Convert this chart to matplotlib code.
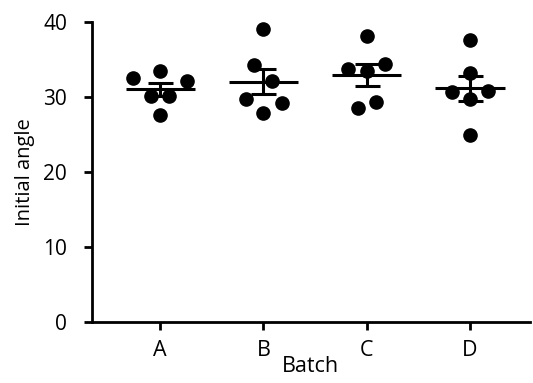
import numpy as np
import matplotlib
matplotlib.use("Agg")
import matplotlib.pyplot as plt

plt.rcParams['font.family'] = ['Open Sans', 'DejaVu Sans']

# data
batches = ['A', 'B', 'C', 'D']
values_a = [32.6, 33.5, 32.2, 30.2, 30.2, 27.6]
values_b = [39.1, 34.3, 32.1, 29.7, 29.2, 27.9]
values_c = [38.1, 33.8, 34.4, 33.5, 29.4, 28.5]
values_d = [37.6, 33.2, 30.7, 30.8, 29.7, 24.9]
y_ticks = [0, 10, 20, 30, 40]

# horizontal spread of the dots (scatter-dot layout)
spread_a = [-0.26, 0, 0.26, -0.087, 0.087, 0]
spread_b = [0, -0.087, 0.087, -0.17, 0.18, 0]
spread_c = [0, -0.18, 0.18, 0, 0.09, -0.087]
spread_d = [0, 0, -0.17, 0.18, 0, 0]

groups = [values_a, values_b, values_c, values_d]
spreads = [spread_a, spread_b, spread_c, spread_d]

fig = plt.figure(figsize=(5.33, 3.83), dpi=100)
ax = fig.add_axes([0.1726, 0.159, 0.8214, 0.7836])

for i, (vals, sp) in enumerate(zip(groups, spreads)):
    vals = np.array(vals)
    ax.plot(i + np.array(sp), vals, 'o', color='black', markersize=9.5, zorder=3)
    mean = vals.mean()
    sem = vals.std(ddof=1) / np.sqrt(len(vals))
    ax.hlines(mean, i - 0.335, i + 0.335, color='black', linewidth=2.2, zorder=2)
    ax.errorbar(i, mean, yerr=sem, color='black', linewidth=2.2,
                capsize=9, capthick=2.2, zorder=2)

ax.set_xlim(-0.66, 3.58)
ax.set_ylim(0, 40)
ax.set_xticks(range(len(batches)))
ax.set_xticklabels(batches)
ax.set_yticks(y_ticks)
ax.spines['top'].set_visible(False)
ax.spines['right'].set_visible(False)
ax.spines['left'].set_linewidth(2)
ax.spines['bottom'].set_linewidth(2)
ax.tick_params(width=2, length=6)
ax.tick_params(axis='y', pad=12, labelsize=15)
ax.tick_params(axis='x', pad=7, labelsize=15.5)
ax.set_xlabel('Batch', fontsize=15.5, labelpad=-4)
ax.set_ylabel('Initial angle', fontsize=14.5, labelpad=6)

fig.savefig('out.png', dpi=100)
